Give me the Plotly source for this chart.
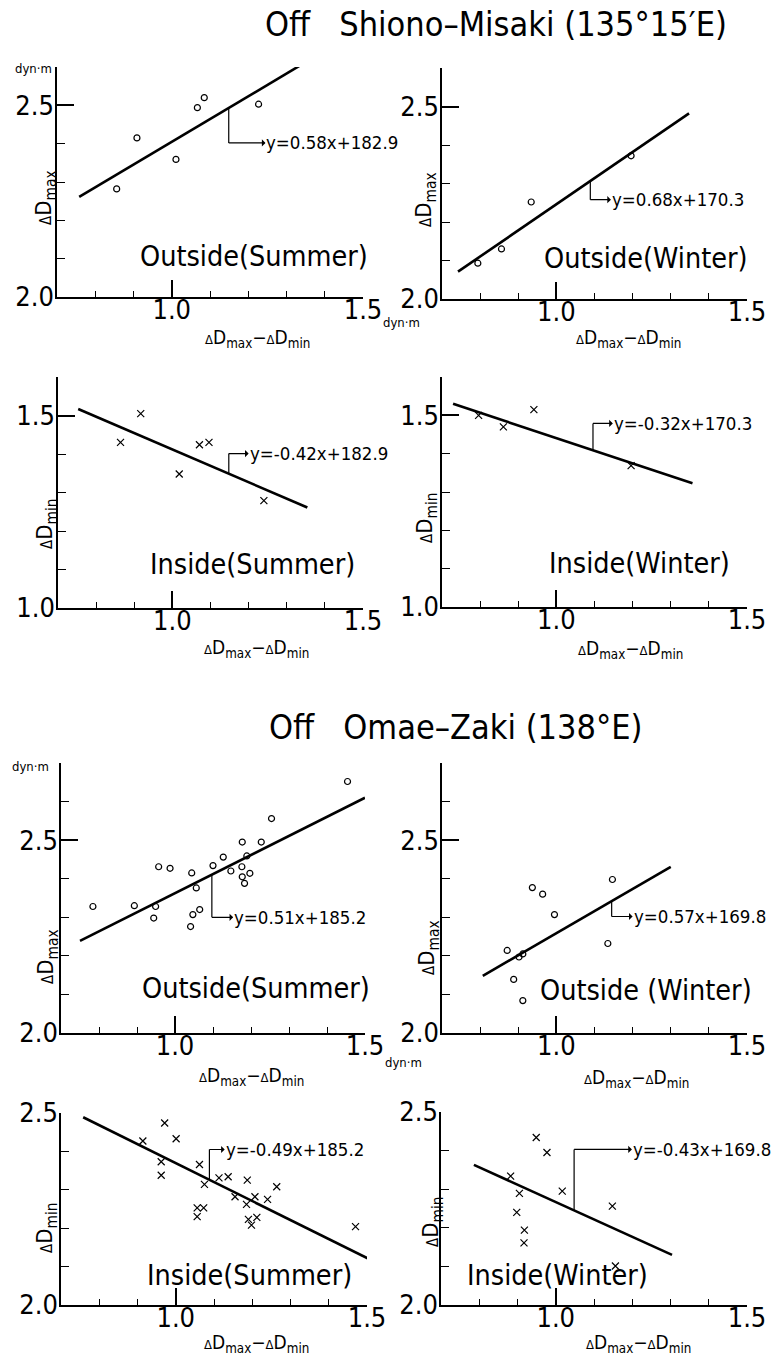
import plotly.graph_objects as go

W, H = 777, 1357
FONT = "DejaVu Sans Condensed, Liberation Sans Narrow, DejaVu Sans, sans-serif"

# ---------------- data ----------------
# Off Shiono-Misaki
s_out_sum_x = [0.856, 0.909, 1.011, 1.067, 1.085, 1.227]
s_out_sum_y = [2.282, 2.415, 2.359, 2.494, 2.520, 2.503]
s_out_sum_fit_x = [0.758, 1.349]
s_out_sum_fit_y = [2.261, 2.612]

s_out_win_x = [0.794, 0.856, 0.934, 1.196]
s_out_win_y = [2.093, 2.130, 2.252, 2.372]
s_out_win_fit_x = [0.742, 1.348]
s_out_win_fit_y = [2.071, 2.482]

s_in_sum_x = [0.864, 0.917, 1.071, 1.096, 1.018, 1.240]
s_in_sum_y = [1.430, 1.505, 1.424, 1.430, 1.348, 1.279]
s_in_sum_fit_x = [0.753, 1.354]
s_in_sum_fit_y = [1.517, 1.261]

s_in_win_x = [0.796, 0.861, 0.941, 1.196]
s_in_win_y = [1.500, 1.470, 1.515, 1.369]
s_in_win_fit_x = [0.729, 1.357]
s_in_win_fit_y = [1.530, 1.323]

# Off Omae-Zaki
o_out_sum_x = [0.784, 0.893, 0.949, 0.944, 0.957, 0.987, 1.044, 1.056, 1.047, 1.065,
               1.041, 1.100, 1.127, 1.147, 1.177, 1.176, 1.177, 1.183, 1.197, 1.227,
               1.254, 1.454, 1.189]
o_out_sum_y = [2.328, 2.330, 2.328, 2.298, 2.431, 2.427, 2.415, 2.376, 2.307, 2.320,
               2.276, 2.434, 2.456, 2.420, 2.495, 2.431, 2.405, 2.388, 2.414, 2.495,
               2.556, 2.652, 2.459]
o_out_sum_fit_x = [0.750, 1.500]
o_out_sum_fit_y = [2.239, 2.610]

o_out_win_x = [0.871, 0.902, 0.912, 0.888, 0.912, 0.937, 0.964, 0.995, 1.147, 1.135]
o_out_win_y = [2.214, 2.197, 2.205, 2.139, 2.084, 2.377, 2.360, 2.307, 2.398, 2.232]
o_out_win_fit_x = [0.807, 1.300]
o_out_win_fit_y = [2.148, 2.431]

o_in_sum_x = [0.794, 0.914, 0.971, 1.001, 0.962, 0.962, 1.062, 1.075, 1.113, 1.137,
              1.187, 1.155, 1.185, 1.207, 1.240, 1.264, 1.056, 1.073, 1.056, 1.190,
              1.212, 1.198, 1.470]
o_in_sum_y = [2.535, 2.427, 2.474, 2.433, 2.373, 2.338, 2.366, 2.314, 2.331, 2.334,
              2.325, 2.282, 2.262, 2.282, 2.275, 2.308, 2.253, 2.253, 2.230, 2.223,
              2.228, 2.208, 2.204]
o_in_sum_fit_x = [0.758, 1.507]
o_in_sum_fit_y = [2.489, 2.119]

o_in_win_x = [0.949, 0.977, 0.882, 0.905, 0.898, 0.918, 0.917, 1.017, 1.148, 1.156]
o_in_win_y = [2.434, 2.395, 2.334, 2.289, 2.240, 2.194, 2.161, 2.295, 2.256, 2.101]
o_in_win_fit_x = [0.786, 1.304]
o_in_win_fit_y = [2.363, 2.130]

equations = ["y=0.58x+182.9", "y=0.68x+170.3", "y=-0.42x+182.9", "y=-0.32x+170.3",
             "y=0.51x+185.2", "y=0.57x+169.8", "y=-0.49x+185.2", "y=-0.43x+169.8"]
panel_labels = ["Outside(Summer)", "Outside(Winter)", "Inside(Summer)", "Inside(Winter)",
                "Outside(Summer)", "Outside (Winter)", "Inside(Summer)", "Inside(Winter)"]
titles = ["Off   Shiono–Misaki (135°15′E)", "Off   Omae–Zaki (138°E)"]

series = [
    (s_out_sum_x, s_out_sum_y, s_out_sum_fit_x, s_out_sum_fit_y, "circle-open"),
    (s_out_win_x, s_out_win_y, s_out_win_fit_x, s_out_win_fit_y, "circle-open"),
    (s_in_sum_x, s_in_sum_y, s_in_sum_fit_x, s_in_sum_fit_y, "x-thin-open"),
    (s_in_win_x, s_in_win_y, s_in_win_fit_x, s_in_win_fit_y, "x-thin-open"),
    (o_out_sum_x, o_out_sum_y, o_out_sum_fit_x, o_out_sum_fit_y, "circle-open"),
    (o_out_win_x, o_out_win_y, o_out_win_fit_x, o_out_win_fit_y, "circle-open"),
    (o_in_sum_x, o_in_sum_y, o_in_sum_fit_x, o_in_sum_fit_y, "x-thin-open"),
    (o_in_win_x, o_in_win_y, o_in_win_fit_x, o_in_win_fit_y, "x-thin-open"),
]

# ---------------- layout geometry (pixels) ----------------
# (left, right, top, bottom) of each plot area
boxes = [(57, 363, 67, 297), (442, 747, 68, 299),
         (58, 363, 377, 608), (442, 747, 377, 607),
         (61, 365, 763, 1033), (442, 747, 763, 1033),
         (61, 367, 1113, 1305), (441, 747, 1112, 1305)]
yranges = [(2.0, 2.6), (2.0, 2.6), (1.0, 1.6), (1.0, 1.6),
           (2.0, 2.7), (2.0, 2.7), (2.0, 2.5), (2.0, 2.5)]
ytitles = ["max", "max", "min", "min", "max", "max", "min", "min"]
ytitle_pos = [(46, 198), (426, 200), (46, 524), (426, 518),
              (47, 957), (428, 948), (46, 1228), (432, 1222)]
xtitle_pos = [(257, 338), (628, 338), (256, 648), (630, 649),
              (251, 1076), (636, 1078), (256, 1343), (638, 1343)]
label_pos = [(138, 257), (542, 258), (148, 564), (547, 563),
             (140, 988), (538, 990), (145, 1275), (465, 1275)]
# bracket: corner x, level y, arrow head x (data units)
brackets = [(1.149, 2.402, 1.245), (1.089, 2.258, 1.143),
            (1.148, 1.401, 1.200), (1.096, 1.479, 1.148),
            (1.097, 2.300, 1.153), (1.145, 2.302, 1.200),
            (1.088, 2.405, 1.128), (1.048, 2.403, 1.199)]


def px(x, y):
    return x / W, 1 - y / H


fig = go.Figure()
layout = dict(width=W, height=H,
              margin=dict(l=0, r=0, t=0, b=0, pad=0, autoexpand=False),
              paper_bgcolor="white", plot_bgcolor="white", showlegend=False,
              font=dict(family=FONT, color="black"))
annotations = []
shapes = []

for i, (sx, sy, fx, fy, sym) in enumerate(series):
    n = "" if i == 0 else str(i + 1)
    xa, ya = "x" + n, "y" + n
    l, r, t, b = boxes[i]
    y0, y1 = yranges[i]
    layout["xaxis" + n] = dict(
        domain=[l / W, r / W], range=[0.7, 1.5], anchor=ya, automargin=False,
        showline=True, linecolor="black", linewidth=1.5,
        showgrid=False, zeroline=False,
        ticks="inside", tickvals=[1.0, 1.5], ticktext=["1.0", "1.5"],
        ticklen=17, tickwidth=1.5, tickcolor="black",
        ticklabelstandoff=-12,
        minor=dict(tickvals=[0.8, 0.9, 1.1, 1.2, 1.3, 1.4], ticks="inside",
                   ticklen=6, tickwidth=1.2, tickcolor="black"),
        tickfont=dict(size=27, family=FONT, color="black"),
    )
    minor_y = [round(y0 + 0.1 * k, 2) for k in range(1, int(round((y1 - y0) * 10)) + 1)]
    minor_y = [v for v in minor_y if abs(v - (y0 + 0.5)) > 1e-6]
    layout["yaxis" + n] = dict(
        domain=[1 - b / H, 1 - t / H], range=[y0, y1], anchor=xa, automargin=False,
        showline=True, linecolor="black", linewidth=1.5,
        showgrid=False, zeroline=False,
        ticks="inside", tickvals=[y0, y0 + 0.5],
        ticktext=["%.1f" % y0, "%.1f" % (y0 + 0.5)],
        ticklen=17, tickwidth=1.5, tickcolor="black",
        ticklabelstandoff=-4,
        minor=dict(tickvals=minor_y, ticks="inside", ticklen=8,
                   tickwidth=1.2, tickcolor="black"),
        tickfont=dict(size=27, family=FONT, color="black"),
    )
    # regression line
    fig.add_trace(go.Scatter(x=fx, y=fy, mode="lines", xaxis=xa, yaxis=ya,
                             line=dict(color="black", width=2.6),
                             hoverinfo="skip"))
    # points
    fig.add_trace(go.Scatter(x=sx, y=sy, mode="markers", xaxis=xa, yaxis=ya,
                             cliponaxis=False,
                             marker=dict(symbol=sym, size=6 if "circle" in sym else 7,
                                         color="black",
                                         line=dict(color="black", width=1.2))))
    # bracket with arrow to equation
    cx, lev, hx = brackets[i]
    ly = fy[0] + (fy[1] - fy[0]) * (cx - fx[0]) / (fx[1] - fx[0])
    shapes.append(dict(type="line", xref=xa, yref=ya, x0=cx, x1=cx, y0=ly, y1=lev,
                       line=dict(color="black", width=1.2)))
    annotations.append(dict(xref=xa, yref=ya, x=cx, y=lev, ax=hx, ay=lev,
                            axref=xa, ayref=ya, text=equations[i], showarrow=True,
                            arrowside="start", arrowhead=2, arrowsize=0.9,
                            arrowwidth=1.2, arrowcolor="black",
                            xanchor="left", yanchor="middle", borderpad=0,
                            font=dict(size=18.5, family=FONT)))
    # panel label
    lx, lyp = px(*label_pos[i])
    annotations.append(dict(xref="paper", yref="paper", x=lx, y=lyp,
                            text=panel_labels[i], showarrow=False,
                            xanchor="left", yanchor="middle",
                            font=dict(size=28.5, family=FONT)))
    # y title
    tx, ty = px(*ytitle_pos[i])
    annotations.append(dict(xref="paper", yref="paper", x=tx, y=ty,
                            text='<span style="font-size:15px">Δ</span>D<sub>%s</sub>' % ytitles[i],
                            textangle=-90, showarrow=False,
                            xanchor="center", yanchor="middle",
                            font=dict(size=22, family=FONT)))
    # x title
    tx, ty = px(*xtitle_pos[i])
    annotations.append(dict(xref="paper", yref="paper", x=tx, y=ty,
                            text='<span style="font-size:13px">Δ</span>D<sub>max</sub>'
                                 '−<span style="font-size:13px">Δ</span>D<sub>min</sub>',
                            showarrow=False, xanchor="center", yanchor="middle",
                            font=dict(size=19, family=FONT)))

# unit labels
for (ux, uy) in [(33, 69), (401, 322), (30, 767), (403, 1062)]:
    x, y = px(ux, uy)
    annotations.append(dict(xref="paper", yref="paper", x=x, y=y, text="dyn·m",
                            showarrow=False, xanchor="center", yanchor="middle",
                            font=dict(size=13, family=FONT)))

# titles
for (t, (tx, ty)) in zip(titles, [(263, 24), (267, 727)]):
    x, y = px(tx, ty)
    annotations.append(dict(xref="paper", yref="paper", x=x, y=y, text=t,
                            showarrow=False, xanchor="left", yanchor="middle",
                            font=dict(size=34, family=FONT)))

layout["annotations"] = annotations
layout["shapes"] = shapes
fig.update_layout(**layout)

# pin the graph to the page origin so the 777x1357 figure fills the window exactly
pin = ("var gd=document.getElementById('{plot_id}');"
       "document.body.style.margin='0';"
       "gd.style.position='fixed';gd.style.left='0px';gd.style.top='0px';")
fig.write_html("out.html", post_script=pin, config={"displayModeBar": False})
